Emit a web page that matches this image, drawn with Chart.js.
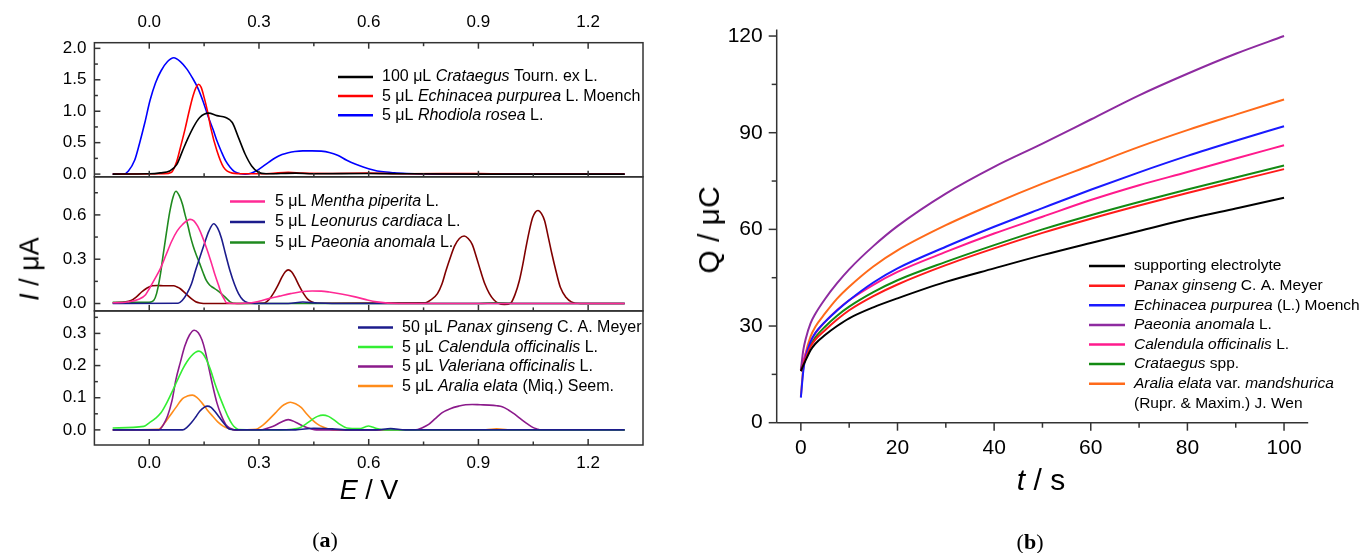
<!DOCTYPE html>
<html>
<head>
<meta charset="utf-8">
<script src="https://cdn.jsdelivr.net/npm/chart.js@4.4.0/dist/chart.umd.min.js"></script>
<style>
  body { margin: 0; background: #fff; }
  #fig { position: relative; width: 1367px; height: 553px; overflow: hidden;
         font-family: 'Liberation Sans', Arial, sans-serif; color: #000; }
  canvas { position: absolute; top: 0; }
  #cvA { left: 0; }
  #cvB { left: 683px; }
  .lbl { position: absolute; transform: translate(-50%, -50%); white-space: nowrap; }
  .rot { transform: translate(-50%, -50%) rotate(-90deg); }
  .cap { font-family: 'Liberation Serif', 'DejaVu Serif', serif; font-size: 22px; }
</style>
</head>
<body>
<div id="fig">
  <canvas id="cvA" width="683" height="553"></canvas>
  <canvas id="cvB" width="684" height="553"></canvas>
  <div class="lbl rot" style="left:30px; top:269px; font-size:27px;"><i>I</i> / μA</div>
  <div class="lbl" style="left:369px; top:490px; font-size:27px;"><i>E</i> / V</div>
  <div class="lbl cap" style="left:325px; top:540px;">(<b>a</b>)</div>
  <div class="lbl rot" style="left:709px; top:230px; font-size:30px;">Q / μC</div>
  <div class="lbl" style="left:1041px; top:480px; font-size:30px;"><i>t</i> / s</div>
  <div class="lbl cap" style="left:1030px; top:542px;">(<b>b</b>)</div>
</div>
<script>
// ---- (a) differential pulse voltammograms, [E / V, I / uA] ----
const potentialTicks = [0, 0.3, 0.6, 0.9, 1.2];
const topTicks = [0, 0.5, 1.0, 1.5, 2.0];
const middleTicks = [0, 0.3, 0.6];
const bottomTicks = [0, 0.1, 0.2, 0.3];

const crataegusDpv = [[-0.1,0],[0.0,0.005],[0.03,0.02],[0.056,0.05],[0.075,0.15],[0.091,0.37],[0.105,0.56],[0.12,0.74],[0.138,0.9],[0.162,0.97],[0.185,0.93],[0.209,0.9],[0.227,0.82],[0.244,0.58],[0.262,0.32],[0.28,0.13],[0.298,0.03],[0.32,0.005],[0.4,0.015],[0.45,0.005],[0.6,0.01],[0.7,0.005],[0.9,0],[1.3,0]];
const echinaceaDpv = [[-0.1,0],[0.04,0.005],[0.061,0.03],[0.075,0.2],[0.085,0.42],[0.098,0.72],[0.109,1.0],[0.12,1.25],[0.128,1.38],[0.135,1.43],[0.142,1.38],[0.15,1.22],[0.16,0.98],[0.168,0.74],[0.185,0.37],[0.203,0.11],[0.227,0.016],[0.26,0.005],[0.33,0.01],[0.38,0.03],[0.42,0.015],[0.5,0.01],[0.6,0.015],[0.7,0.005],[0.9,0.01],[1.0,0],[1.3,0]];
const rhodiolaDpv = [[-0.1,0],[-0.07,0],[-0.057,0.05],[-0.04,0.22],[-0.027,0.48],[-0.012,0.82],[0.002,1.17],[0.017,1.45],[0.032,1.64],[0.05,1.79],[0.067,1.85],[0.085,1.79],[0.103,1.67],[0.118,1.53],[0.132,1.38],[0.147,1.16],[0.162,0.9],[0.175,0.7],[0.185,0.53],[0.197,0.36],[0.209,0.21],[0.221,0.11],[0.233,0.04],[0.25,0.005],[0.262,0],[0.278,0.015],[0.292,0.05],[0.31,0.12],[0.327,0.19],[0.345,0.26],[0.363,0.31],[0.38,0.34],[0.398,0.36],[0.42,0.37],[0.445,0.37],[0.47,0.365],[0.492,0.345],[0.515,0.3],[0.54,0.22],[0.563,0.16],[0.587,0.11],[0.61,0.07],[0.634,0.04],[0.67,0.02],[0.705,0.01],[0.75,0.003],[0.8,0],[1.3,0]];

const menthaDpv = [[-0.1,0.005],[-0.06,0.01],[-0.027,0.03],[-0.01,0.06],[0.0,0.1],[0.016,0.17],[0.032,0.245],[0.046,0.33],[0.061,0.42],[0.076,0.49],[0.091,0.535],[0.112,0.57],[0.122,0.56],[0.132,0.525],[0.144,0.46],[0.156,0.38],[0.168,0.29],[0.179,0.2],[0.19,0.12],[0.197,0.067],[0.205,0.03],[0.211,0.005],[0.233,0],[0.28,0.005],[0.3,0.015],[0.327,0.033],[0.356,0.05],[0.386,0.067],[0.415,0.08],[0.445,0.085],[0.47,0.084],[0.492,0.078],[0.525,0.065],[0.563,0.045],[0.59,0.028],[0.622,0.011],[0.681,0],[1.3,0]];
const leonurusDpv = [[-0.1,0],[0.079,0.002],[0.09,0.02],[0.103,0.067],[0.115,0.13],[0.126,0.22],[0.138,0.31],[0.15,0.4],[0.163,0.49],[0.176,0.54],[0.187,0.51],[0.197,0.446],[0.209,0.33],[0.221,0.22],[0.233,0.13],[0.244,0.067],[0.256,0.025],[0.268,0.007],[0.29,0],[0.38,0],[0.42,0.01],[0.46,0.003],[0.5,0],[1.3,0]];
const paeoniaDpv = [[-0.1,0.008],[0.0,0.008],[0.012,0.02],[0.02,0.067],[0.03,0.19],[0.038,0.33],[0.047,0.48],[0.056,0.62],[0.065,0.72],[0.073,0.76],[0.082,0.73],[0.091,0.67],[0.098,0.6],[0.105,0.535],[0.112,0.46],[0.12,0.39],[0.13,0.32],[0.138,0.27],[0.147,0.21],[0.156,0.156],[0.165,0.125],[0.173,0.11],[0.185,0.09],[0.197,0.067],[0.209,0.04],[0.221,0.011],[0.239,0],[0.3,0],[0.9,0],[0.95,0.005],[1.0,0],[1.3,0]];
const fourPeakDpv = [[-0.1,0.004],[-0.05,0.02],[-0.035,0.045],[-0.021,0.078],[-0.006,0.105],[0.008,0.12],[0.023,0.122],[0.038,0.12],[0.053,0.12],[0.067,0.12],[0.076,0.112],[0.085,0.1],[0.1,0.066],[0.115,0.033],[0.127,0.012],[0.138,0.004],[0.16,0],[0.315,0.004],[0.327,0.025],[0.339,0.067],[0.351,0.12],[0.363,0.18],[0.372,0.215],[0.38,0.228],[0.389,0.215],[0.398,0.18],[0.41,0.12],[0.422,0.067],[0.433,0.03],[0.445,0.011],[0.46,0.002],[0.752,0.004],[0.77,0.025],[0.788,0.067],[0.8,0.13],[0.811,0.22],[0.823,0.31],[0.835,0.39],[0.848,0.44],[0.861,0.457],[0.872,0.44],[0.883,0.4],[0.895,0.31],[0.906,0.22],[0.918,0.13],[0.93,0.067],[0.942,0.025],[0.953,0.004],[0.971,-0.007],[0.989,0.005],[1.0,0.06],[1.012,0.156],[1.021,0.26],[1.03,0.38],[1.039,0.49],[1.048,0.58],[1.056,0.62],[1.063,0.63],[1.072,0.61],[1.081,0.56],[1.091,0.45],[1.101,0.335],[1.112,0.22],[1.124,0.11],[1.14,0.04],[1.154,0.011],[1.178,0],[1.3,0]];

const panaxDpv = [[-0.1,0],[0.091,0],[0.103,0.008],[0.115,0.022],[0.127,0.04],[0.138,0.058],[0.15,0.07],[0.159,0.074],[0.169,0.07],[0.179,0.058],[0.191,0.04],[0.203,0.022],[0.213,0.008],[0.221,0.002],[0.24,0],[0.4,0],[0.45,0.005],[0.5,0.003],[0.55,0],[0.62,0],[0.66,0.004],[0.7,0],[1.3,0]];
const calendulaDpv = [[-0.1,0.006],[-0.015,0.011],[0.0,0.022],[0.016,0.035],[0.032,0.053],[0.046,0.08],[0.061,0.115],[0.076,0.152],[0.091,0.188],[0.103,0.212],[0.115,0.23],[0.126,0.241],[0.136,0.245],[0.146,0.238],[0.156,0.219],[0.168,0.185],[0.179,0.146],[0.191,0.108],[0.203,0.074],[0.215,0.042],[0.227,0.017],[0.236,0.006],[0.244,0.001],[0.36,0],[0.39,0.002],[0.41,0.006],[0.428,0.018],[0.445,0.032],[0.46,0.042],[0.475,0.046],[0.49,0.042],[0.504,0.032],[0.52,0.018],[0.54,0.006],[0.575,0.004],[0.59,0.009],[0.599,0.012],[0.61,0.009],[0.622,0.004],[0.646,0],[1.3,0]];
const valerianaDpv = [[-0.1,0],[0.026,0],[0.038,0.015],[0.05,0.043],[0.062,0.09],[0.073,0.157],[0.085,0.21],[0.097,0.26],[0.11,0.295],[0.123,0.31],[0.134,0.302],[0.144,0.28],[0.153,0.245],[0.162,0.198],[0.173,0.14],[0.185,0.084],[0.197,0.045],[0.209,0.017],[0.221,0.005],[0.233,0],[0.304,0],[0.32,0.004],[0.339,0.011],[0.36,0.024],[0.38,0.032],[0.4,0.024],[0.422,0.011],[0.44,0.004],[0.457,0],[0.729,0],[0.745,0.006],[0.764,0.017],[0.782,0.035],[0.8,0.053],[0.823,0.066],[0.847,0.074],[0.865,0.078],[0.883,0.079],[0.905,0.078],[0.93,0.077],[0.95,0.075],[0.965,0.072],[0.982,0.062],[1.0,0.048],[1.018,0.032],[1.036,0.017],[1.05,0.007],[1.06,0.003],[1.07,0],[1.3,0]];
const araliaDpv = [[-0.1,0],[0.026,0.002],[0.04,0.018],[0.056,0.043],[0.073,0.07],[0.091,0.097],[0.104,0.105],[0.118,0.108],[0.13,0.101],[0.144,0.084],[0.158,0.063],[0.173,0.043],[0.188,0.024],[0.203,0.011],[0.218,0.004],[0.233,0],[0.292,0.002],[0.31,0.014],[0.327,0.032],[0.345,0.053],[0.363,0.074],[0.375,0.082],[0.386,0.086],[0.4,0.081],[0.416,0.069],[0.43,0.05],[0.445,0.032],[0.46,0.018],[0.475,0.009],[0.49,0.003],[0.504,0],[0.92,0],[0.95,0.003],[0.98,0],[1.3,0]];

// ---- (b) chronocoulometry, Q / uC against t / s ----
const timeTicks = [0, 20, 40, 60, 80, 100];
const chargeTicks = [0, 30, 60, 90, 120];
const timeValues = [0, 0.5, 1, 2, 3, 5, 7.5, 10, 15, 20, 30, 40, 50, 60, 70, 80, 90, 100];
const electrolyteQ = [16.0, 17.8, 19.4, 22.5, 24.5, 27.2, 30.0, 32.4, 35.8, 38.6, 43.7, 47.9, 52.0, 55.8, 59.5, 63.2, 66.5, 69.8];
const panaxQ       = [16.0, 18.0, 20.0, 23.6, 25.8, 28.7, 32.0, 34.9, 39.3, 42.9, 48.9, 54.1, 58.9, 63.3, 67.4, 71.3, 75.0, 78.7];
const echinaceaQ   = [7.8, 16.0, 20.5, 25.1, 27.9, 31.3, 34.8, 38.0, 43.5, 47.9, 54.6, 60.8, 66.6, 72.3, 77.7, 82.8, 87.5, 92.0];
const paeoniaQ     = [16.3, 22.5, 26.0, 30.8, 33.8, 38.4, 43.3, 47.6, 54.8, 61.0, 71.1, 79.4, 86.6, 94.1, 101.6, 108.3, 114.5, 120.0];
const calendulaQ   = [16.3, 19.0, 21.5, 25.1, 27.7, 31.3, 35.0, 38.0, 42.8, 46.8, 53.0, 58.7, 63.9, 69.1, 73.7, 77.8, 82.0, 86.1];
const crataegusQ   = [16.0, 18.5, 20.5, 24.1, 26.5, 29.8, 33.2, 36.0, 40.5, 44.2, 49.9, 55.1, 60.0, 64.4, 68.5, 72.4, 76.1, 79.8];
const araliaQ      = [8.1, 17.0, 21.5, 26.7, 29.8, 33.9, 38.5, 42.2, 48.5, 53.5, 61.3, 68.0, 74.2, 79.9, 85.6, 90.8, 95.6, 100.3];

const FONT = "'Liberation Sans', Arial, sans-serif";
const FRAME = '#333333';

// text with *italic* parts
function drawRich(ctx, text, x, y, size) {
  let cx = x;
  ctx.textBaseline = 'middle';
  ctx.textAlign = 'left';
  ctx.fillStyle = '#000';
  text.split('*').forEach((part, i) => {
    ctx.font = (i % 2 ? 'italic ' : '') + size + 'px ' + FONT;
    ctx.fillText(part, cx, y);
    cx += ctx.measureText(part).width;
  });
}

function drawLegend(chart, spec) {
  const ctx = chart.ctx;
  const items = chart.data.datasets.filter(d => d.label && (!spec.axis || d.yAxisID === spec.axis));
  let y = spec.y;
  items.forEach(d => {
    ctx.strokeStyle = d.borderColor;
    ctx.lineWidth = 2.5;
    ctx.beginPath();
    ctx.moveTo(spec.x, y);
    ctx.lineTo(spec.x + spec.len, y);
    ctx.stroke();
    const lines = d.label.split('\n');
    lines.forEach((ln, k) => drawRich(ctx, ln, spec.x + spec.len + spec.pad, y + k * spec.gap, spec.size));
    y += spec.gap * lines.length;
  });
}

// half-step values between the labelled ticks, inside the scale range
function minorValues(ticks, scale) {
  const step = ticks[1] - ticks[0];
  const out = [];
  for (let v = ticks[0] - step / 2; v <= ticks[ticks.length - 1] + step / 2 + 1e-9; v += step) {
    if (v > scale.min + 1e-6 && v < scale.max - 1e-6) out.push(v);
  }
  return out;
}

function fixedTicks(values) {
  return scale => { scale.ticks = values.map(v => ({ value: v })); };
}

function dpvSet(label, points, color, axis) {
  return {
    label: label, yAxisID: axis, borderColor: color, borderWidth: 1.6,
    data: points.map(p => ({ x: p[0], y: p[1] }))
  };
}

function qSet(label, values, color) {
  return {
    label: label, borderColor: color, borderWidth: 2,
    data: values.map((q, i) => ({ x: timeValues[i], y: q }))
  };
}

const tickFontA = { family: FONT, size: 17 };
const hiddenGrid = { display: false, drawTicks: false };
const noBorder = { display: false };

function potentialAxis(position, height, pad) {
  return {
    type: 'linear', position: position, min: -0.15, max: 1.35,
    afterBuildTicks: fixedTicks(potentialTicks),
    afterFit: s => { s.height = height; },
    grid: hiddenGrid, border: noBorder,
    ticks: { font: tickFontA, color: '#000', padding: pad, maxRotation: 0, autoSkip: false, callback: v => v.toFixed(1) }
  };
}

function currentAxis(min, max, ticks) {
  return {
    type: 'linear', position: 'left', stack: 'dpv', stackWeight: 1, min: min, max: max,
    afterBuildTicks: fixedTicks(ticks),
    afterFit: s => { s.width = 94.4; },
    grid: hiddenGrid, border: noBorder,
    ticks: { font: tickFontA, color: '#000', padding: 8, autoSkip: false, callback: v => v.toFixed(1) }
  };
}

// boxed sub-panels with inward ticks
const dpvFrame = {
  id: 'dpvFrame',
  afterDraw(chart) {
    const ctx = chart.ctx, area = chart.chartArea, sx = chart.scales.x;
    const axisTicks = { yTop: topTicks, yMiddle: middleTicks, yBottom: bottomTicks };
    ctx.save();
    ctx.strokeStyle = FRAME;
    ctx.lineWidth = 1.5;
    const seg = (x1, y1, x2, y2) => { ctx.beginPath(); ctx.moveTo(x1, y1); ctx.lineTo(x2, y2); ctx.stroke(); };
    const xMinor = minorValues(potentialTicks, sx);
    Object.keys(axisTicks).forEach(id => {
      const s = chart.scales[id];
      ctx.strokeRect(area.left, s.top, area.right - area.left, s.bottom - s.top);
      axisTicks[id].forEach(v => { const y = s.getPixelForValue(v); seg(area.left, y, area.left + 6, y); });
      minorValues(axisTicks[id], s).forEach(v => { const y = s.getPixelForValue(v); seg(area.left, y, area.left + 3.5, y); });
      potentialTicks.forEach(v => { const x = sx.getPixelForValue(v); seg(x, s.bottom, x, s.bottom - 6); });
      xMinor.forEach(v => { const x = sx.getPixelForValue(v); seg(x, s.bottom, x, s.bottom - 3.5); });
    });
    potentialTicks.forEach(v => { const x = sx.getPixelForValue(v); seg(x, area.top, x, area.top + 6); });
    xMinor.forEach(v => { const x = sx.getPixelForValue(v); seg(x, area.top, x, area.top + 3.5); });
    ctx.restore();
    [
      { axis: 'yTop', x: 338, y: 77, gap: 19.1, len: 35, pad: 9, size: 16 },
      { axis: 'yMiddle', x: 230, y: 201.4, gap: 20.6, len: 35, pad: 10, size: 16 },
      { axis: 'yBottom', x: 358, y: 327.6, gap: 19.5, len: 35, pad: 9, size: 16 }
    ].forEach(spec => drawLegend(chart, spec));
  }
};

new Chart(document.getElementById('cvA'), {
  type: 'line',
  data: {
    datasets: [
      dpvSet('100 μL *Crataegus* Tourn. ex L.', crataegusDpv, '#000000', 'yTop'),
      dpvSet('5 μL *Echinacea purpurea* L. Moench', echinaceaDpv, '#ff0000', 'yTop'),
      dpvSet('5 μL *Rhodiola rosea* L.', rhodiolaDpv, '#0000ff', 'yTop'),
      dpvSet('5 μL *Mentha piperita* L.', menthaDpv, '#ff2a95', 'yMiddle'),
      dpvSet('5 μL *Leonurus cardiaca* L.', leonurusDpv, '#1c1c8c', 'yMiddle'),
      dpvSet('5 μL *Paeonia anomala* L.', paeoniaDpv, '#1f8a1f', 'yMiddle'),
      dpvSet('', fourPeakDpv, '#800000', 'yMiddle'),
      dpvSet('50 μL *Panax ginseng* C. A. Meyer', panaxDpv, '#1c1c8c', 'yBottom'),
      dpvSet('5 μL *Calendula officinalis* L.', calendulaDpv, '#33ee33', 'yBottom'),
      dpvSet('5 μL *Valeriana officinalis* L.', valerianaDpv, '#8b1a8b', 'yBottom'),
      dpvSet('5 μL *Aralia elata* (Miq.) Seem.', araliaDpv, '#ff8c1a', 'yBottom')
    ]
  },
  options: {
    responsive: false,
    animation: false,
    layout: { padding: { left: 0, right: 40, top: 0, bottom: 0 } },
    elements: { point: { radius: 0 }, line: { cubicInterpolationMode: 'monotone' } },
    plugins: { legend: { display: false }, tooltip: { enabled: false } },
    scales: {
      x: potentialAxis('bottom', 108, 8),
      x2: potentialAxis('top', 42.7, 10),
      yBottom: currentAxis(-0.047, 0.37, bottomTicks),
      yMiddle: currentAxis(-0.05, 0.858, middleTicks),
      yTop: currentAxis(-0.043, 2.09, topTicks)
    }
  },
  plugins: [dpvFrame]
});

// open axes with outward ticks
const qAxes = {
  id: 'qAxes',
  afterDraw(chart) {
    const ctx = chart.ctx, area = chart.chartArea, sx = chart.scales.x, sy = chart.scales.y;
    ctx.save();
    ctx.strokeStyle = FRAME;
    ctx.lineWidth = 1.5;
    const seg = (x1, y1, x2, y2) => { ctx.beginPath(); ctx.moveTo(x1, y1); ctx.lineTo(x2, y2); ctx.stroke(); };
    seg(area.left, area.top, area.left, area.bottom);
    seg(area.left, area.bottom, area.right, area.bottom);
    chargeTicks.forEach(v => { const y = sy.getPixelForValue(v); seg(area.left, y, area.left - 8, y); });
    minorValues(chargeTicks, sy).forEach(v => { const y = sy.getPixelForValue(v); seg(area.left, y, area.left - 5, y); });
    timeTicks.forEach(v => { const x = sx.getPixelForValue(v); seg(x, area.bottom, x, area.bottom + 8); });
    minorValues(timeTicks, sx).forEach(v => { const x = sx.getPixelForValue(v); seg(x, area.bottom, x, area.bottom + 5); });
    ctx.restore();
    drawLegend(chart, { x: 406, y: 266.1, gap: 19.6, len: 36, pad: 9, size: 15.5 });
  }
};

const tickFontB = { family: FONT, size: 21 };

new Chart(document.getElementById('cvB'), {
  type: 'line',
  data: {
    datasets: [
      qSet('supporting electrolyte', electrolyteQ, '#000000'),
      qSet('*Panax ginseng* C. A. Meyer', panaxQ, '#ff1a1a'),
      qSet('*Echinacea purpurea* (L.) Moench', echinaceaQ, '#1a1aff'),
      qSet('*Paeonia anomala* L.', paeoniaQ, '#8e2ba0'),
      qSet('*Calendula officinalis* L.', calendulaQ, '#ff1a8c'),
      qSet('*Crataegus* spp.', crataegusQ, '#138a13'),
      qSet('*Aralia elata* var. *mandshurica*\n(Rupr. & Maxim.) J. Wen', araliaQ, '#ff6a1a')
    ]
  },
  options: {
    responsive: false,
    animation: false,
    layout: { padding: { left: 0, right: 58.8, top: 29.6, bottom: 0 } },
    elements: { point: { radius: 0 }, line: { cubicInterpolationMode: 'monotone' } },
    plugins: { legend: { display: false }, tooltip: { enabled: false } },
    scales: {
      x: {
        type: 'linear', min: -5, max: 105,
        afterBuildTicks: fixedTicks(timeTicks),
        afterFit: s => { s.height = 130.3; },
        grid: hiddenGrid, border: noBorder,
        ticks: { font: tickFontB, color: '#000', padding: 13, maxRotation: 0, autoSkip: false }
      },
      y: {
        type: 'linear', min: 0, max: 122,
        afterBuildTicks: fixedTicks(chargeTicks),
        afterFit: s => { s.width = 93.7; },
        grid: hiddenGrid, border: noBorder,
        ticks: { font: tickFontB, color: '#000', padding: 14, autoSkip: false }
      }
    }
  },
  plugins: [qAxes]
});
</script>
</body>
</html>
